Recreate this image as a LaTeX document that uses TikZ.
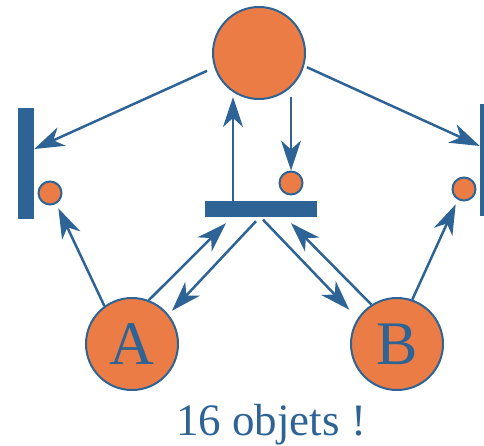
\documentclass[tikz,border=0pt]{standalone}
\usepackage{fontspec}
\setmainfont{Liberation Serif}
\usetikzlibrary{arrows.meta, calc}
\definecolor{petriblue}{HTML}{2E6395}
\definecolor{petriorange}{HTML}{EC7C45}

\begin{document}
\begin{tikzpicture}[x=1pt, y=-1pt,
    place/.style={circle, draw=petriblue, line width=2pt, fill=petriorange, inner sep=0pt},
    bigplace/.style={place, minimum size=92pt, text=petriblue, font=\fontsize{62}{62}\selectfont},
    token/.style={place, minimum size=23pt},
    trans/.style={rectangle, fill=petriblue, inner sep=0pt},
    arc/.style={-{Stealth[length=30pt, width=20pt, inset=9pt]}, line width=2.5pt, draw=petriblue}]
    \useasboundingbox (0,0) rectangle (484,445);
    \node[bigplace] (big) at (259,53) {};
    \node[trans, minimum width=16pt, minimum height=111pt] (lbar) at (26,163.5) {};
    \node[trans, minimum width=16pt, minimum height=112pt] (rbar) at (488,160) {};
    \node[trans, minimum width=112pt, minimum height=16pt] (cbar) at (261,209) {};
    \node[token] (sl) at (50,193) {};
    \node[token] (sm) at (291,183) {};
    \node[token] (sr) at (464,189) {};
    \node[bigplace] (A) at (132,344) {A};
    \node[bigplace] (B) at (397,344) {B};
    \node[text=petriblue, font=\fontsize{45}{45}\selectfont, anchor=base] (count) at (271,435) {16 objets !};
    % arcs of the top place
    \draw[arc, shorten <=8pt] (big.198) -- ([yshift=14.5pt]lbar.east);
    \draw[arc, shorten <=3pt] (big.-16) -- ([yshift=14pt]rbar.west);
    \draw[arc] ([xshift=-28pt]cbar.north) -- ($(big.south)+(-26,-3)$);
    \draw[arc] ($(big.south)+(32,-3)$) -- (sm.north);
    % arcs of A and B
    \draw[arc, shorten >=5pt] (A.126) -- (sl.-60);
    \draw[arc] (A.69) -- ([xshift=-35pt, yshift=-6pt]cbar.south);
    \draw[arc, shorten >=5pt] ([xshift=-5pt, yshift=-4pt]cbar.south) -- (A.39);
    \draw[arc, shorten >=12pt] ([xshift=2pt, yshift=-2.5pt]cbar.south) -- (B.147);
    \draw[arc] (B.123) -- ([xshift=30pt, yshift=-6pt]cbar.south);
    \draw[arc, shorten >=5pt] (B.71) -- (sr.-120);
\end{tikzpicture}
\end{document}
